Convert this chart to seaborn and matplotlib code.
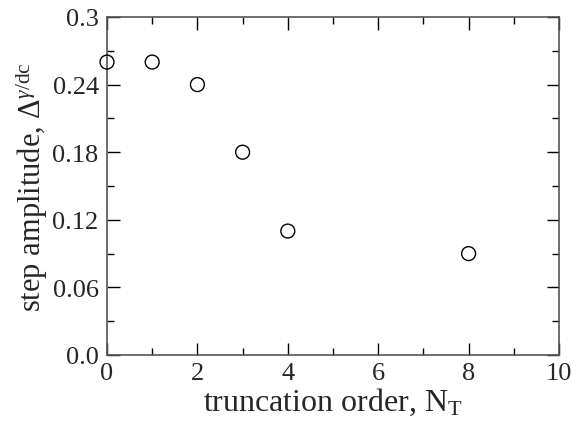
import matplotlib
matplotlib.use("Agg")
import matplotlib.pyplot as plt
import seaborn as sns
import pandas as pd
from matplotlib.ticker import MultipleLocator

order = [0, 1, 2, 3, 4, 8]
amplitude = [0.26, 0.26, 0.24, 0.18, 0.11, 0.09]

sns.set_theme(style="ticks")
plt.rcParams['font.family'] = ['Liberation Serif', 'DejaVu Serif']
plt.rcParams['mathtext.fontset'] = 'custom'
plt.rcParams['mathtext.rm'] = 'Liberation Serif'
plt.rcParams['mathtext.it'] = 'Liberation Serif:italic'

df = pd.DataFrame({"N": order, "A": amplitude})
fig = plt.figure(figsize=(5.8, 4.27), dpi=100)
ax = fig.add_axes([107/580, 1-356/427, (559-107)/580, (356-18)/427])
sns.scatterplot(data=df, x="N", y="A", ax=ax, marker="o", s=100,
                facecolor="none", edgecolor="black", linewidth=1.0, zorder=5, clip_on=False)
ax.set_xlim(0, 10)
ax.set_ylim(0, 0.3)
ax.xaxis.set_major_locator(MultipleLocator(2))
ax.xaxis.set_minor_locator(MultipleLocator(1))
ax.yaxis.set_minor_locator(MultipleLocator(0.03))
ax.set_yticks([0, 0.06, 0.12, 0.18, 0.24, 0.3])
ax.set_yticklabels(["0.0", "0.06", "0.12", "0.18", "0.24", "0.3"])
ax.tick_params(which="both", direction="in", top=True, right=True, labelsize=19, color="black")
ax.tick_params(axis="x", pad=5)
ax.tick_params(axis="y", pad=6)
ax.tick_params(which="major", length=9, width=1)
ax.tick_params(which="minor", length=5, width=1)
for s in ax.spines.values():
    s.set_color("#555555")
    s.set_linewidth(1.2)
ax.set_xlabel(r"truncation order, N$_\mathrm{T}$", fontsize=23, labelpad=1)
ax.set_ylabel(r"step amplitude, $\Delta^{\gamma/\mathrm{dc}}$", fontsize=22, labelpad=2)
fig.savefig("out.png", dpi=100)
